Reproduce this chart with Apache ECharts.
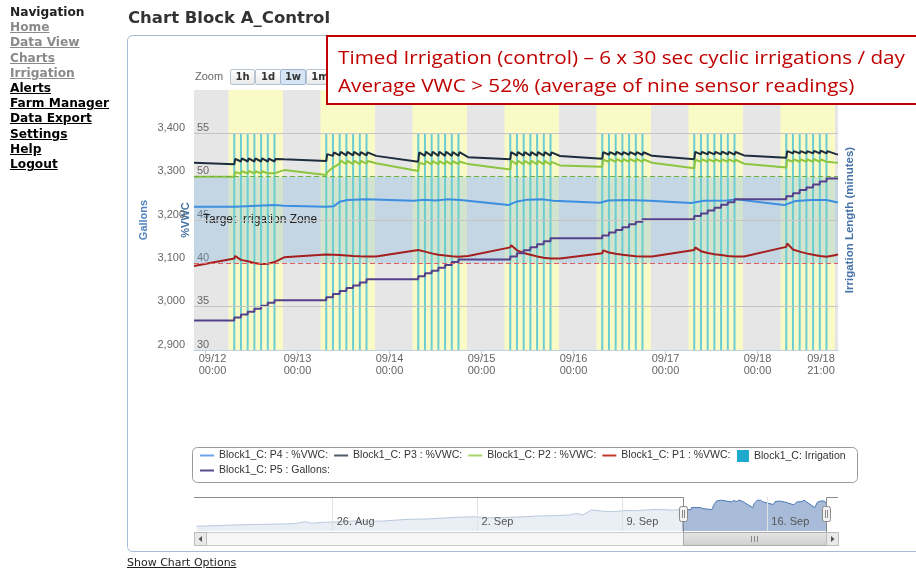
<!DOCTYPE html>
<html><head><meta charset="utf-8">
<script src="https://cdn.jsdelivr.net/npm/echarts@6/dist/echarts.min.js"></script>
<style>
html,body{margin:0;padding:0;background:#fff;width:916px;height:569px;overflow:hidden;}
#chart{position:absolute;left:0;top:0;width:916px;height:569px;}
.nav{position:absolute;left:10px;top:5px;font-family:'DejaVu Sans',Verdana,sans-serif;font-weight:bold;font-size:12.2px;line-height:15.2px;color:#222;}
.nav div{white-space:nowrap}
.nav span{text-decoration:underline;color:#000}
.nav span.g{color:#8a8a8a}
.title{position:absolute;left:128px;top:8px;font:bold 16.5px 'DejaVu Sans',sans-serif;color:#333;white-space:nowrap;}
.opts{position:absolute;left:127px;top:556px;font:11px 'DejaVu Sans',sans-serif;color:#222;text-decoration:underline;white-space:nowrap;}
.zoomlbl{position:absolute;left:195px;top:70px;font:11px 'Liberation Sans',sans-serif;color:#666;}
.btn{position:absolute;top:69px;height:14px;border:1px solid #b8c4d0;border-radius:2px;background:linear-gradient(#ffffff,#e9e9e9);font:bold 10px 'DejaVu Sans',sans-serif;color:#333;text-align:center;line-height:14px;}
.btn.sel{background:#d6e4f4;border-color:#9ab4d2}
.note{position:absolute;left:326px;top:35px;width:600px;height:70px;border:2px solid #c00000;background:#fff;box-sizing:border-box;}
.note div{position:absolute;left:10px;white-space:nowrap;font-family:'Open Sans','Noto Sans',sans-serif;font-size:19px;line-height:26px;color:#c00000;transform-origin:0 50%;}
</style></head>
<body>
<div id="chart"></div>
<div class="nav">
<div>Navigation</div>
<div><span class="g">Home</span></div>
<div><span class="g">Data View</span></div>
<div><span class="g">Charts</span></div>
<div><span class="g">Irrigation</span></div>
<div><span>Alerts</span></div>
<div><span>Farm Manager</span></div>
<div><span>Data Export</span></div>
<div><span>Settings</span></div>
<div><span>Help</span></div>
<div><span>Logout</span></div>
</div>
<div class="title">Chart Block A_Control</div>
<div class="zoomlbl">Zoom</div>
<div class="btn" style="left:230px;width:23px">1h</div>
<div class="btn" style="left:255px;width:24px">1d</div>
<div class="btn sel" style="left:280px;width:24px">1w</div>
<div class="btn" style="left:306px;width:26px">1m</div>
<div class="note">
<div id="n1" style="top:7px">Timed Irrigation (control) – 6 x 30 sec cyclic irrigations / day</div>
<div id="n2" style="top:35px">Average VWC &gt; 52% (average of nine sensor readings)</div>
</div>
<div class="opts">Show Chart Options</div>
<script>
// ---------- DATA ----------
const xTickHours = [0, 24, 48, 72, 96, 120, 144, 165];
const xTickLabels = ['09/12\n00:00','09/13\n00:00','09/14\n00:00','09/15\n00:00','09/16\n00:00','09/17\n00:00','09/18\n00:00','09/18\n21:00'];
const dayBandStart = [6, 30, 54, 78, 102, 126, 150];
const dayBandEnd = [20.2, 44.2, 68.2, 92.2, 116.2, 140.2, 164.2];
const zoneLow = 40, zoneHigh = 50;

const vwcHours = [-3,
 7.5,7.75,9.25,9.5,11,11.25,12.75,13,14.5,14.75,16.25,16.5,18,18.25,20.5,
 31.5,31.75,33.25,33.5,35,35.25,36.75,37,38.5,38.75,40.25,40.5,42,42.25,44.5,
 55.5,55.75,57.25,57.5,59,59.25,60.75,61,62.5,62.75,64.25,64.5,66,66.25,68.5,
 79.5,79.75,81.25,81.5,83,83.25,84.75,85,86.5,86.75,88.25,88.5,90,90.25,92.5,
 103.5,103.75,105.25,105.5,107,107.25,108.75,109,110.5,110.75,112.25,112.5,114,114.25,116.5,
 127.5,127.75,129.25,129.5,131,131.25,132.75,133,134.5,134.75,136.25,136.5,138,138.25,140.5,
 151.5,151.75,153.25,153.5,155,155.25,156.75,157,158.5,158.75,160.25,160.5,162,162.25,164.5,
 165];
const p3Vwc = [51.60,
 51.42,52.05,51.75,52.10,51.75,52.10,51.75,52.10,51.75,52.10,51.75,52.08,51.75,52.05,52.00,
 51.80,52.60,52.40,52.80,52.45,52.85,52.45,52.85,52.45,52.85,52.45,52.82,52.45,52.80,52.40,
 51.72,52.80,52.40,52.87,52.40,52.87,52.40,52.87,52.40,52.87,52.40,52.85,52.40,52.82,52.25,
 52.00,52.84,52.42,52.84,52.42,52.84,52.42,52.84,52.42,52.84,52.42,52.82,52.42,52.80,52.38,
 52.06,52.84,52.53,52.84,52.53,52.86,52.53,52.84,52.53,52.84,52.53,52.84,52.50,52.82,52.40,
 52.00,52.87,52.57,52.87,52.57,52.87,52.57,52.87,52.57,52.90,52.57,52.87,52.55,52.85,52.45,
 52.18,52.95,52.69,52.95,52.69,52.95,52.69,52.95,52.69,52.97,52.69,53.00,52.69,52.95,52.60,
 52.57];
const p2Vwc = [50.00,
 50.00,50.50,50.35,50.62,50.38,50.65,50.38,50.62,50.38,50.62,50.38,50.60,50.38,50.60,50.76,
 50.20,50.50,51.05,51.25,51.50,51.84,51.45,51.84,51.45,51.84,51.45,51.82,51.50,51.80,51.55,
 50.65,51.60,51.42,51.80,51.42,51.80,51.42,51.80,51.42,51.80,51.42,51.78,51.45,51.75,51.45,
 50.84,51.84,51.42,51.84,51.42,51.84,51.42,51.84,51.42,51.84,51.42,51.82,51.40,51.70,51.30,
 51.15,51.95,51.72,52.03,51.72,52.03,51.72,52.03,51.72,52.03,51.72,52.03,51.70,52.00,51.60,
 50.96,51.95,51.72,52.00,51.72,52.00,51.72,52.00,51.72,52.00,51.72,52.00,51.70,51.95,51.50,
 51.07,51.95,51.72,52.00,51.72,52.00,51.72,52.00,51.72,52.02,51.72,52.00,51.72,51.95,51.62,
 51.60];
const p1Vwc = [39.69,
 40.55,40.85,40.40,40.60,40.25,40.45,40.05,40.20,39.92,40.05,39.95,40.15,40.15,40.30,40.69,
 41.03,41.22,41.00,41.18,40.95,41.12,40.90,41.05,40.85,41.00,40.82,40.98,40.80,40.95,40.80,
 41.53,41.73,41.35,41.50,41.15,41.30,41.00,41.15,40.90,41.05,40.82,40.98,40.76,40.90,40.85,
 41.84,42.10,41.50,41.70,41.20,41.40,41.00,41.15,40.80,40.95,40.65,40.80,40.55,40.65,40.55,
 41.15,41.50,41.25,41.40,41.10,41.25,41.00,41.15,40.90,41.05,40.82,40.95,40.78,40.90,40.80,
 41.53,41.84,41.40,41.55,41.20,41.35,41.05,41.20,40.95,41.10,40.85,41.00,40.78,40.90,40.80,
 41.90,42.30,41.60,41.75,41.35,41.50,41.15,41.30,41.00,41.15,40.85,41.00,40.76,40.88,40.95,
 41.07];
const p4Hours = [-3,7.5,8,18,20.5,31.5,33.5,35,37,42,54.3,57,60,63,66.5,79,81,84,88,90.7,102.9,105,110,115.8,126.7,130,136,138.4,151,154,158,162,165];
const p4Vwc = [46.53,46.53,46.72,46.72,46.64,46.53,46.60,47.10,47.30,47.38,47.22,47.35,47.25,47.38,47.30,46.72,47.10,47.35,47.38,47.22,46.99,47.25,47.30,47.22,46.96,47.22,47.25,47.38,46.72,47.20,47.30,47.30,47.03];
const p5Hours = [-3, 7.5,9.25,11,12.75,14.5,16.25,18, 31.5,33.25,35,36.75,38.5,40.25,42, 55.5,57.25,59,60.75,62.5,64.25,66, 79.5,81.25,83,84.75,86.5,88.25,90, 103.5,105.25,107,108.75,110.5,112.25,114, 127.5,129.25,131,132.75,134.5,136.25,138, 151.5,153.25,155,156.75,158.5,160.25,162, 165];
const p5Gallons = [2968, 2975,2982,2988,2995,3002,3009,3015, 3022,3029,3036,3043,3049,3056,3063, 3070,3077,3083,3090,3096,3103,3109, 3116,3123,3130,3137,3144,3151,3158, 3164,3171,3177,3183,3190,3196,3202, 3209,3215,3222,3228,3235,3241,3248, 3255,3262,3269,3275,3282,3289,3296, 3296];
const irrigationHours = [7.5,9.25,11,12.75,14.5,16.25,18, 31.5,33.25,35,36.75,38.5,40.25,42, 55.5,57.25,59,60.75,62.5,64.25,66, 79.5,81.25,83,84.75,86.5,88.25,90, 103.5,105.25,107,108.75,110.5,112.25,114, 127.5,129.25,131,132.75,134.5,136.25,138, 151.5,153.25,155,156.75,158.5,160.25,162];
const irrigationMinutes = [0.5,0.5,0.5,0.5,0.5,0.5,0.5, 0.5,0.5,0.5,0.5,0.5,0.5,0.5, 0.5,0.5,0.5,0.5,0.5,0.5,0.5, 0.5,0.5,0.5,0.5,0.5,0.5,0.5, 0.5,0.5,0.5,0.5,0.5,0.5,0.5, 0.5,0.5,0.5,0.5,0.5,0.5,0.5, 0.5,0.5,0.5,0.5,0.5,0.5,0.5];
const navHistHours = [-566,-555,-530,-505,-485,-465,-450,-440,-432,-420,-400,-384,-365,-349,-335,-319,-300,-284,-265,-244,-225,-204,-185,-169,-150,-133,-125,-118,-108,-95,-83,-70,-58,-45,-33,-15,-3];
const navHistVwc = [45.05,45.08,45.15,45.20,45.23,45.25,45.30,45.46,45.32,45.40,45.45,45.52,45.50,45.52,45.60,45.67,45.70,45.76,45.85,45.90,45.80,45.85,45.90,45.97,46.00,46.06,46.20,46.05,46.50,46.40,46.35,46.45,46.44,46.50,46.56,46.50,46.53];
const navTickHours = [-408, -240, -72, 96];
const navTickLabels = ['26. Aug', '2. Sep', '9. Sep', '16. Sep'];

const NAME_P4 = 'Block1_C: P4 : %VWC:', NAME_P3 = 'Block1_C: P3 : %VWC:', NAME_P2 = 'Block1_C: P2 : %VWC:', NAME_P1 = 'Block1_C: P1 : %VWC:', NAME_P5 = 'Block1_C: P5 : Gallons:', NAME_IRR = 'Block1_C: Irrigation';

// ---------- CHART ----------
const F = "'Liberation Sans', Arial, sans-serif";
const pairs = (xs, ys) => xs.map((x, i) => [x, ys[i]]);
const chart = echarts.init(document.getElementById('chart'), null, {renderer: 'canvas'});
const legendText = {color: '#333', fontSize: 10.5, fontFamily: F, width: 112};
const lineSeries = (name, xs, ys, lineColor, legendColor, yIdx, extra) => Object.assign({
  name, type: 'line', xAxisIndex: 0, yAxisIndex: yIdx, data: pairs(xs, ys),
  showSymbol: false, symbol: 'none', lineStyle: {color: lineColor, width: 2},
  itemStyle: {color: legendColor}, z: 4, silent: true
}, extra || {});

const option = {
  animation: false,
  textStyle: {fontFamily: F},
  grid: [
    {left: 194, top: 90, width: 644, height: 260, show: true, backgroundColor: '#e6e6e6', borderWidth: 0},
    {left: 194, top: 497, width: 644, height: 34, show: false}
  ],
  legend: [
    {data: [NAME_P4, NAME_P3, NAME_P2, NAME_P1], left: 200, top: 450, icon: 'rect', itemWidth: 14, itemHeight: 2, itemGap: 6, padding: 0, selectedMode: false, textStyle: legendText},
    {data: [{name: NAME_IRR, itemStyle: {color: '#1eaacd'}}], left: 737, top: 450, icon: 'rect', itemWidth: 12, itemHeight: 12, padding: 0, selectedMode: false, textStyle: legendText},
    {data: [NAME_P5], left: 200, top: 465, icon: 'rect', itemWidth: 14, itemHeight: 2, padding: 0, selectedMode: false, textStyle: legendText}
  ],
  xAxis: [
    {type: 'value', gridIndex: 0, min: -3, max: 165,
     axisLine: {show: true, lineStyle: {color: '#c0d0e0', width: 1}},
     axisTick: {show: true, length: 5, customValues: [0, 24, 48, 72, 96, 120, 144], lineStyle: {color: '#c0d0e0'}},
     splitLine: {show: false},
     axisLabel: {customValues: xTickHours, color: '#666', fontSize: 11, lineHeight: 12, margin: 3,
       formatter: (v) => {
         const i = xTickHours.indexOf(v); const s = xTickLabels[i] || '';
         if (i === 0) return s.split('\n').map(t => '{f|' + t + '}').join('\n');
         if (i === xTickHours.length - 1) return s.split('\n').map(t => '{l|' + t + '}').join('\n');
         return s;
       },
       rich: {f: {padding: [0, 0, 0, 14], color: '#666', fontSize: 11, lineHeight: 12},
              l: {padding: [0, 34, 0, 0], color: '#666', fontSize: 11, lineHeight: 12}}}
    },
    {type: 'value', gridIndex: 1, min: -568.8, max: 177.9, z: 10,
     axisLine: {show: false}, axisTick: {show: false}, splitLine: {show: false},
     axisLabel: {customValues: navTickHours, inside: true, align: 'left', margin: 4, color: '#555', fontSize: 11,
       padding: [0, 0, 0, 4], formatter: (v) => navTickLabels[navTickHours.indexOf(v)] || ''}}
  ],
  yAxis: [
    {type: 'value', gridIndex: 0, position: 'left', min: 2900, max: 3500, interval: 100,
     name: 'Gallons', nameLocation: 'middle', nameGap: 45, nameMoveOverlap: false,
     nameTextStyle: {color: '#4f81bd', fontWeight: 'bold', fontSize: 11},
     axisLine: {show: false}, axisTick: {show: false}, splitLine: {show: false},
     axisLabel: {color: '#666', fontSize: 11, margin: 9, verticalAlign: 'bottom', showMaxLabel: false,
       formatter: (v) => v.toLocaleString('en-US')}},
    {type: 'value', gridIndex: 0, position: 'left', min: 30, max: 60, interval: 5,
     name: '%VWC', nameLocation: 'middle', nameGap: 3, nameMoveOverlap: false,
     nameTextStyle: {color: '#4572a7', fontWeight: 'bold', fontSize: 11},
     axisLine: {show: false}, axisTick: {show: false}, splitLine: {show: false},
     axisLabel: {inside: true, color: '#666', fontSize: 11, margin: 3, verticalAlign: 'bottom', showMaxLabel: false}},
    {type: 'value', gridIndex: 0, position: 'right', min: 0, max: 0.6, interval: 0.1,
     name: 'Irrigation Length (minutes)', nameLocation: 'middle', nameGap: 6, nameMoveOverlap: false,
     nameTextStyle: {color: '#4572a7', fontWeight: 'bold', fontSize: 11.5},
     axisLine: {show: false}, axisTick: {show: false}, splitLine: {show: false},
     axisLabel: {inside: true, color: '#666', fontSize: 11, margin: 3, verticalAlign: 'bottom', showMaxLabel: false,
       formatter: (v) => String(Math.round(v * 10) / 10)}},
    {type: 'value', gridIndex: 1, min: 44.63, max: 47.66, show: false}
  ],
  series: [
    {name: 'bands', type: 'line', xAxisIndex: 0, yAxisIndex: 1, data: [[-3, null]], symbol: 'none', silent: true, z: 1,
     markArea: {silent: true, label: {show: false},
       data: dayBandStart.map((s, i) => [{xAxis: s, itemStyle: {color: '#fafac6'}}, {xAxis: dayBandEnd[i]}]).concat([
         [{name: 'Target Irrigation Zone', yAxis: zoneLow, itemStyle: {color: 'rgba(120,175,225,0.3)'},
           label: {show: true, position: 'insideLeft', distance: 9, color: '#222', fontSize: 12, fontFamily: F}},
          {yAxis: zoneHigh}]
       ])}},
    {name: 'gridlines', type: 'line', xAxisIndex: 0, yAxisIndex: 1, data: [[-3, null]], symbol: 'none', silent: true, z: 2,
     markLine: {silent: true, symbol: 'none', label: {show: false},
       data: [
         {yAxis: 35, lineStyle: {color: '#c4c4c4', type: 'solid', width: 1}},
         {yAxis: 45, lineStyle: {color: '#c4c4c4', type: 'solid', width: 1}},
         {yAxis: 55, lineStyle: {color: '#c4c4c4', type: 'solid', width: 1}},
         {yAxis: zoneLow, lineStyle: {color: '#e06060', type: [5, 3], width: 1}},
         {yAxis: zoneHigh, lineStyle: {color: '#70b040', type: [5, 3], width: 1}}
       ]}},
    {name: NAME_IRR, type: 'bar', xAxisIndex: 0, yAxisIndex: 2, data: pairs(irrigationHours, irrigationMinutes),
     barWidth: 2, itemStyle: {color: '#6ccdd2'}, z: 3, silent: true},
    lineSeries(NAME_P4, p4Hours, p4Vwc, '#3b8ee0', '#6aa6e8', 1),
    lineSeries(NAME_P3, vwcHours, p3Vwc, '#1e2d3e', '#4e5a68', 1),
    lineSeries(NAME_P2, vwcHours, p2Vwc, '#8cc540', '#a8d468', 1),
    lineSeries(NAME_P1, vwcHours, p1Vwc, '#a51f1f', '#c0392b', 1),
    lineSeries(NAME_P5, p5Hours, p5Gallons, '#55408c', '#5b4a8e', 0, {step: 'end'}),
    {name: 'navHist', type: 'line', xAxisIndex: 1, yAxisIndex: 3, data: pairs(navHistHours, navHistVwc), symbol: 'none', silent: true, z: 2,
     lineStyle: {color: '#b9c8dc', width: 1}, areaStyle: {color: '#eaeff6', opacity: 1, origin: 'start'}},
    {name: 'navSel', type: 'line', xAxisIndex: 1, yAxisIndex: 3, data: pairs(p4Hours, p4Vwc), symbol: 'none', silent: true, z: 2,
     lineStyle: {color: '#4a78b5', width: 1}, areaStyle: {color: '#a8bcd9', opacity: 1, origin: 'start'},
     markLine: {silent: true, symbol: 'none', label: {show: false}, lineStyle: {color: '#e2e2e2', type: 'solid', width: 1},
       data: navTickHours.map(h => ({xAxis: h}))}}
  ],
  graphic: [
    {type: 'rect', silent: true, z: 0, shape: {x: 127.5, y: 35.5, width: 820, height: 516, r: 5}, style: {fill: 'none', stroke: '#a3bbd6', lineWidth: 1}},
    {type: 'rect', silent: true, shape: {x: 192.5, y: 447.5, width: 665, height: 35, r: 5}, style: {fill: 'none', stroke: '#9a9a9a', lineWidth: 1}},
    {type: 'polyline', silent: true, z: 10, shape: {points: [[194, 497.5], [683.5, 497.5], [683.5, 532]]}, style: {fill: 'none', stroke: '#8a8a8a', lineWidth: 1}},
    {type: 'polyline', silent: true, z: 10, shape: {points: [[826.5, 532], [826.5, 497.5], [838, 497.5]]}, style: {fill: 'none', stroke: '#8a8a8a', lineWidth: 1}},
    {type: 'rect', silent: true, z: 10, shape: {x: 194.5, y: 532.5, width: 643, height: 13}, style: {fill: '#f6f6f6', stroke: '#cccccc', lineWidth: 1}},
    {type: 'rect', silent: true, z: 11, shape: {x: 194.5, y: 532.5, width: 12, height: 13}, style: {fill: '#e9e9e9', stroke: '#bbbbbb', lineWidth: 1}},
    {type: 'polygon', silent: true, z: 12, shape: {points: [[202, 536], [202, 542], [198.5, 539]]}, style: {fill: '#555'}},
    {type: 'rect', silent: true, z: 11, shape: {x: 683.5, y: 532.5, width: 143, height: 13},
     style: {fill: new echarts.graphic.LinearGradient(0, 0, 0, 1, [{offset: 0, color: '#e6e6e6'}, {offset: 1, color: '#cfcfcf'}]), stroke: '#aaaaaa', lineWidth: 1}},
    {type: 'line', silent: true, z: 12, shape: {x1: 751.5, y1: 536, x2: 751.5, y2: 542}, style: {stroke: '#888'}},
    {type: 'line', silent: true, z: 12, shape: {x1: 754.5, y1: 536, x2: 754.5, y2: 542}, style: {stroke: '#888'}},
    {type: 'line', silent: true, z: 12, shape: {x1: 757.5, y1: 536, x2: 757.5, y2: 542}, style: {stroke: '#888'}},
    {type: 'rect', silent: true, z: 11, shape: {x: 826.5, y: 532.5, width: 12, height: 13}, style: {fill: '#e9e9e9', stroke: '#bbbbbb', lineWidth: 1}},
    {type: 'polygon', silent: true, z: 12, shape: {points: [[831, 536], [831, 542], [834.5, 539]]}, style: {fill: '#555'}},
    {type: 'rect', silent: true, z: 12, shape: {x: 679.5, y: 506.5, width: 8, height: 15, r: 2}, style: {fill: '#f2f2f2', stroke: '#8a8a8a', lineWidth: 1}},
    {type: 'line', silent: true, z: 13, shape: {x1: 682.5, y1: 510, x2: 682.5, y2: 518}, style: {stroke: '#8a8a8a'}},
    {type: 'line', silent: true, z: 13, shape: {x1: 684.5, y1: 510, x2: 684.5, y2: 518}, style: {stroke: '#8a8a8a'}},
    {type: 'rect', silent: true, z: 12, shape: {x: 822.5, y: 506.5, width: 8, height: 15, r: 2}, style: {fill: '#f2f2f2', stroke: '#8a8a8a', lineWidth: 1}},
    {type: 'line', silent: true, z: 13, shape: {x1: 825.5, y1: 510, x2: 825.5, y2: 518}, style: {stroke: '#8a8a8a'}},
    {type: 'line', silent: true, z: 13, shape: {x1: 827.5, y1: 510, x2: 827.5, y2: 518}, style: {stroke: '#8a8a8a'}}
  ]
};
chart.setOption(option);

function fitNote() {
  const n1 = document.getElementById('n1'), n2 = document.getElementById('n2');
  n1.style.transform = ''; n2.style.transform = '';
  const w = n1.getBoundingClientRect().width;
  if (w > 0) { const k = 567 / w; n1.style.transform = 'scaleX(' + k + ')'; n2.style.transform = 'scaleX(' + k + ')'; }
}
fitNote();
if (document.fonts && document.fonts.ready) document.fonts.ready.then(fitNote);
</script>
</body></html>
